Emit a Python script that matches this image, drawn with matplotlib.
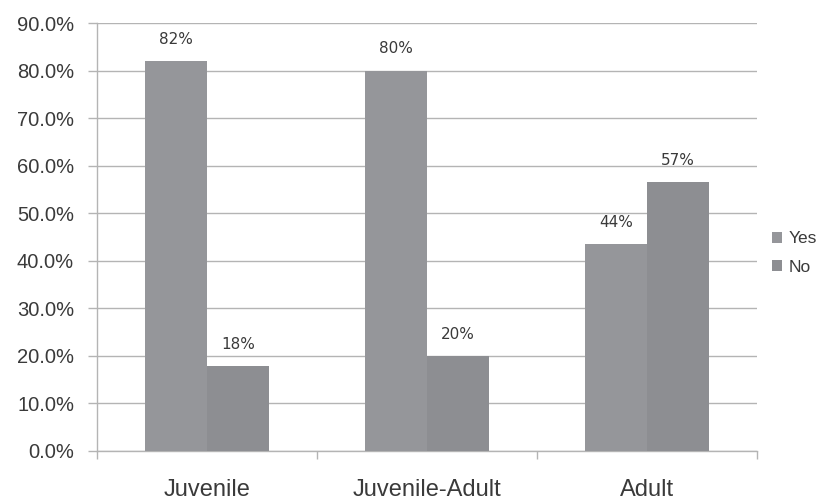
import numpy as np
import matplotlib.pyplot as plt
from matplotlib.ticker import PercentFormatter

# data
categories = ['Juvenile', 'Juvenile-Adult', 'Adult']
yes_values = [82.0, 80.0, 43.5]
no_values = [17.8, 20.0, 56.6]
yes_labels = ['82%', '80%', '44%']
no_labels = ['18%', '20%', '57%']

text_col = '#3a3a3a'
grid_col = '#b4b4b4'

fig = plt.figure(figsize=(8.17, 5.03), dpi=100)
ax = fig.add_axes([0.1187, 0.1034, 0.808, 0.8506])

x = np.arange(len(categories))
w = 0.282
ax.bar(x - w / 2, yes_values, w, color='#95969a', label='Yes', zorder=3)
ax.bar(x + w / 2, no_values, w, color='#8d8e92', label='No', zorder=3)

# value labels above the bars
for i in range(len(categories)):
    ax.text(x[i] - w / 2, yes_values[i] + 4.6, yes_labels[i], ha='center', va='center',
            fontsize=11, color=text_col, family='DejaVu Sans')
    ax.text(x[i] + w / 2, no_values[i] + 4.6, no_labels[i], ha='center', va='center',
            fontsize=11, color=text_col, family='DejaVu Sans')

ax.set_xlim(-0.5, 2.5)
ax.set_ylim(0, 90)
ax.set_yticks(np.arange(0, 91, 10))
ax.yaxis.set_major_formatter(PercentFormatter(decimals=1))
ax.yaxis.grid(True, color=grid_col, lw=1, zorder=0)

ax.set_xticks(x)
ax.set_xticklabels(categories)
ax.set_xticks([-0.5, 0.5, 1.5, 2.5], minor=True)
ax.tick_params(axis='x', which='major', length=0, pad=20, labelsize=17, labelcolor=text_col)
ax.tick_params(axis='x', which='minor', length=6, color=grid_col, width=1)
ax.tick_params(axis='y', length=6.5, color=grid_col, width=1, pad=10, labelsize=14.5, labelcolor=text_col)
for lab in ax.get_xticklabels() + ax.get_yticklabels():
    lab.set_family('Liberation Sans')

for s in ['top', 'right']:
    ax.spines[s].set_visible(False)
for s in ['left', 'bottom']:
    ax.spines[s].set_color(grid_col)
    ax.spines[s].set_linewidth(1)

leg = fig.legend(loc='center left', bbox_to_anchor=(0.945, 0.497), frameon=False,
                 handlelength=0.55, handleheight=0.55, handletextpad=0.4,
                 labelspacing=0.75, borderaxespad=0, borderpad=0,
                 prop={'family': 'Liberation Sans', 'size': 12.5})
for t in leg.get_texts():
    t.set_color(text_col)

fig.savefig('out.png', dpi=100)
